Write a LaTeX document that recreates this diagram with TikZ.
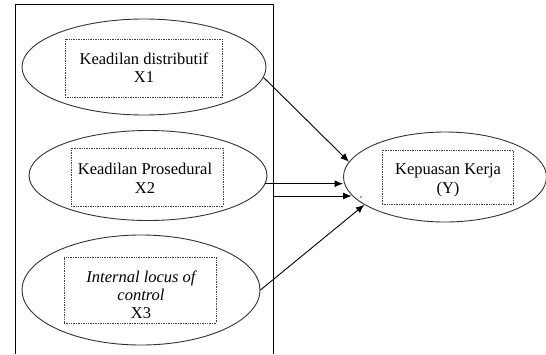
\documentclass[tikz,border=0pt]{standalone}
\usepackage{fontspec}
\setmainfont{Liberation Serif}
\usetikzlibrary{shapes.geometric,arrows.meta}
\newcommand{\twolines}[3]{\fontsize{16.5}{#1}\selectfont\begin{tabular}[t]{@{}c@{}}#2\\#3\end{tabular}}
\begin{document}
\begin{tikzpicture}[x=1pt,y=1pt,
  ell/.style={draw=black!80,line width=0.9pt,ellipse,inner sep=0pt},
  tbox/.style={draw=black!75,densely dotted,line width=0.7pt,inner sep=0pt},
  txt/.style={inner sep=0pt,anchor=base},
  arr/.style={line width=0.9pt,-{Latex[length=8.5pt,width=7pt]}}]
\useasboundingbox (0,0) rectangle (546,-354);
% frame
\coordinate (rbl) at (15,-354);
\coordinate (rtl) at (15,-4);
\coordinate (rtr) at (273,-4);
\coordinate (rbr) at (273,-354);
\draw[line width=0.9pt] (rbl) -- (rtl) -- (rtr) -- (rbr);
% ellipses
\node[ell,minimum width=244pt,minimum height=96pt] (e1) at (144,-67) {};
\node[ell,minimum width=238pt,minimum height=90pt] (e2) at (148,-175.5) {};
\node[ell,minimum width=238pt,minimum height=110pt] (e3) at (141,-290) {};
\node[ell,minimum width=203pt,minimum height=90pt] (ey) at (445,-177) {};
% text boxes
\node[tbox,minimum width=157pt,minimum height=58pt] (t1) at (143.5,-68) {};
\node[tbox,minimum width=152pt,minimum height=58pt] (t2) at (147,-177) {};
\node[tbox,minimum width=152pt,minimum height=66pt] (t3) at (140,-290) {};
\node[tbox,minimum width=131pt,minimum height=54pt] (ty) at (447.5,-177) {};
% texts
\node[txt] (l1) at (144,-64) {\twolines{18}{Keadilan distributif}{X1}};
\node[txt] (l2) at (145,-174) {\twolines{19}{Keadilan Prosedural}{X2}};
\node[txt] (l3) at (141,-282) {\fontsize{16.5}{18}\selectfont\begin{tabular}[t]{@{}c@{}}\itshape Internal locus of\\\itshape control\\X3\end{tabular}};
\node[txt] (ly) at (448,-174) {\twolines{19}{Kepuasan Kerja}{(Y)}};
% arrows
\draw[arr] (e1.-5) -- (ey.171);
\draw[arr] (e2.-4) -- (e2.-4 -| ey.west);
\coordinate (r3) at (273,-196);
\draw[arr] (r3) -- (r3 -| ey.191.6);
\draw[arr] (e3.east) -- (ey.199);
% stray dot
\fill[blue!80] (361,-197) circle (0.8pt);
\end{tikzpicture}
\end{document}
